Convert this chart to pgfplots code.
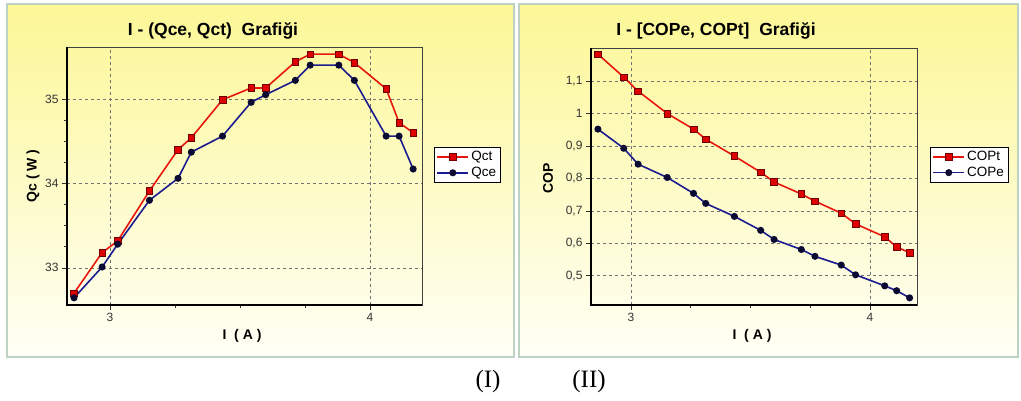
\documentclass[border=0pt]{standalone}
\usepackage{fontspec}
\setmainfont{Liberation Sans}
\newfontfamily\capfont{Liberation Serif}
\usepackage{pgfplots}
\usepackage{pgfplotstable}
\pgfplotsset{compat=1.18}

\definecolor{lnred}{RGB}{232,22,12}
\definecolor{mkred}{RGB}{222,0,0}
\definecolor{mkredd}{RGB}{110,0,0}
\definecolor{lnblue}{RGB}{28,28,145}
\definecolor{mkblue}{RGB}{10,10,50}
\definecolor{paneltop}{RGB}{252,247,150}
\definecolor{panelbot}{RGB}{255,255,246}
\definecolor{frame}{RGB}{190,210,195}

% I (A), Qct, Qce, COPt, COPe
\pgfplotstableread{
x      qct    qce     copt   cope
2.862  32.70  32.645  1.183  0.952
2.970  33.18  33.01   1.112  0.893
3.030  33.32  33.28   1.069  0.844
3.152  33.91  33.80   1.000  0.803
3.262  34.40  34.06   0.952  0.754
3.313  34.54  34.37   0.921  0.723
3.433  34.99  34.56   0.869  0.683
3.543  35.13  34.96   0.819  0.640
3.599  35.13  35.05   0.789  0.612
3.713  35.44  35.22   0.752  0.581
3.770  35.53  35.40   0.730  0.560
3.880  35.53  35.40   0.693  0.533
3.940  35.43  35.22   0.660  0.503
4.062  35.12  34.56   0.620  0.469
4.112  34.72  34.56   0.589  0.454
4.166  34.60  34.17   0.571  0.432
}\data

\pgfplotsset{
  panel/.style={
    scale only axis,
    anchor=south west,
    clip=false,
    axis line style={draw=black!75, line width=0.8pt},
    xtick pos=bottom, ytick pos=left,
    tick align=outside,
    major tick length=5pt, minor tick length=3pt,
    tick style={black!80, line width=0.6pt},
    minor x tick num=3,
    grid=major,
    grid style={dashed, black!55, line width=0.6pt},
    tick label style={font=\fontsize{12}{14}\selectfont, text=black!80},
    /pgf/number format/assume math mode=true,
    /pgf/number format/use comma,
    legend style={draw=black, line width=0.6pt, fill=white,
      font=\fontsize{13.5}{15}\selectfont, inner sep=2pt,
      row sep=1pt, anchor=north west},
    legend cell align={left},
    legend image code/.code={\draw[mark repeat=2,mark phase=2]
      plot coordinates {(0cm,0cm) (0.55cm,0cm) (1.1cm,0cm)};},
  },
  redser/.style={color=lnred, line width=1.6pt, mark=square*,
    mark size=3.3pt, mark options={fill=mkred, draw=mkredd, line width=0.6pt}},
  blueser/.style={color=lnblue, line width=1.6pt, mark=*,
    mark size=2.7pt, mark options={fill=mkblue, draw=mkblue}},
}

\begin{document}
\begin{tikzpicture}[x=1pt,y=1pt]
\fill[white] (0,0) rectangle (1021,400);
% panel frames
\shade[top color=paneltop, bottom color=panelbot] (7,396) rectangle (514,43);
\draw[frame, line width=2pt] (7,396) rectangle (514,43);
\shade[top color=paneltop, bottom color=panelbot] (519,396) rectangle (1018,43);
\draw[frame, line width=2pt] (519,396) rectangle (1018,43);

% panel I
\begin{axis}[panel, at={(67pt,95pt)}, width=355pt, height=258pt,
  xmin=2.835, xmax=4.2, ymin=32.56, ymax=35.615,
  xtick={3,4}, ytick={33,34,35}, minor y tick num=3,
  legend style={at={(1.034,0.612)}}]
\addplot[redser] table[x=x, y=qct] {\data};
\addlegendentry{Qct}
\addplot[blueser] table[x=x, y=qce] {\data};
\addlegendentry{Qce}
\draw[line width=2.6pt, black] (rel axis cs:0,1) -- (rel axis cs:0,0) -- (rel axis cs:1,0);
\end{axis}

% panel II
\begin{axis}[panel, at={(591pt,95pt)}, width=326pt, height=257pt,
  xmin=2.833, xmax=4.197, ymin=0.41, ymax=1.202,
  xtick={3,4}, ytick={0.5,0.6,0.7,0.8,0.9,1,1.1}, minor y tick num=0,
  legend style={at={(1.040,0.615)}}]
\addplot[redser] table[x=x, y=copt] {\data};
\addlegendentry{COPt}
\addplot[blueser] table[x=x, y=cope] {\data};
\addlegendentry{COPe}
\draw[line width=2.6pt, black] (rel axis cs:0,1) -- (rel axis cs:0,0) -- (rel axis cs:1,0);
\end{axis}

% titles and labels
\node[font=\bfseries\fontsize{17.5}{20}\selectfont] at (213,369) {I - (Qce, Qct)\ \ Grafiği};
\node[font=\bfseries\fontsize{17.5}{20}\selectfont] at (716,369) {I - [COPe, COPt]\ \ Grafiği};
\node[font=\bfseries\fontsize{14}{16}\selectfont, rotate=90] at (33,224) {Qc ( W )};
\node[font=\bfseries\fontsize{14}{16}\selectfont, rotate=90] at (548,222) {COP};
\node[font=\bfseries\fontsize{14}{16}\selectfont] at (242,64) {I\ \ ( A )};
\node[font=\bfseries\fontsize{14}{16}\selectfont] at (752,64) {I\ \ ( A )};
\node[font=\capfont\fontsize{25}{28}\selectfont] at (488,19) {(I)};
\node[font=\capfont\fontsize{25}{28}\selectfont] at (589,19) {(II)};
\end{tikzpicture}
\end{document}
